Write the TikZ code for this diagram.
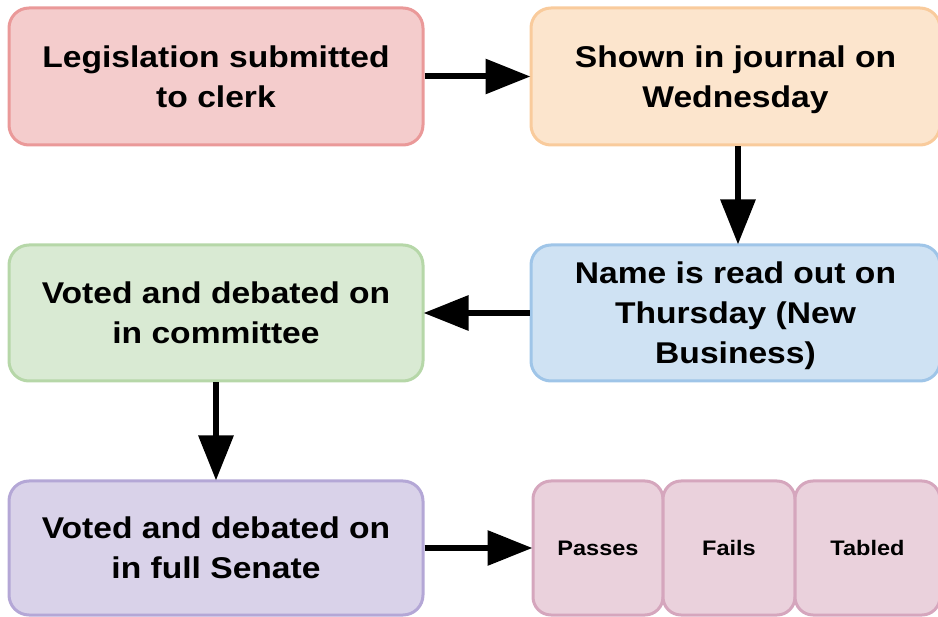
\documentclass[tikz,border=0pt]{standalone}
\usepackage{fontspec}
\setmainfont{Liberation Sans}[FakeStretch=1.12]
\usetikzlibrary{arrows.meta}
\definecolor{redF}{HTML}{F4CCCC}\definecolor{redD}{HTML}{EA9999}
\definecolor{orgF}{HTML}{FCE5CD}\definecolor{orgD}{HTML}{F9CB9C}
\definecolor{bluF}{HTML}{CFE2F3}\definecolor{bluD}{HTML}{9FC5E8}
\definecolor{grnF}{HTML}{D9EAD3}\definecolor{grnD}{HTML}{B6D7A8}
\definecolor{purF}{HTML}{D9D2E9}\definecolor{purD}{HTML}{B4A7D6}
\definecolor{pnkF}{HTML}{EAD1DC}\definecolor{pnkD}{HTML}{D5A6BD}
\tikzset{
  bigbox/.style={rectangle, rounded corners=20pt, line width=3pt, align=center,
    inner sep=0pt, text depth=-3pt, font=\fontsize{30}{40}\selectfont\bfseries},
  smallbox/.style={rectangle, rounded corners=18pt, line width=3pt, align=center,
    inner sep=0pt, minimum height=134pt, font=\fontsize{21}{26}\selectfont\bfseries,
    draw=pnkD, fill=pnkF},
  flow/.style={line width=6pt, -{Triangle[length=45pt,width=34pt]}, shorten >=-1pt}
}
\begin{document}
\begin{tikzpicture}[x=1pt,y=-1pt]
\useasboundingbox (0,0) rectangle (938,617);
\node[bigbox, draw=redD, fill=redF, minimum width=414pt, minimum height=137pt] (leg) at (216,76.5) {Legislation submitted\\to clerk};
\node[bigbox, draw=orgD, fill=orgF, minimum width=409pt, minimum height=137pt] (jour) at (735.5,76.5) {Shown in journal on\\Wednesday};
\node[bigbox, draw=bluD, fill=bluF, minimum width=409pt, minimum height=136pt] (name) at (735.5,313) {Name is read out on\\Thursday (New\\Business)};
\node[bigbox, draw=grnD, fill=grnF, minimum width=414pt, minimum height=136pt] (comm) at (216,313) {Voted and debated on\\in committee};
\node[bigbox, draw=purD, fill=purF, minimum width=414pt, minimum height=134pt] (sen) at (216,548) {Voted and debated on\\in full Senate};
\node[smallbox, minimum width=130pt] (pass) at (598,548) {Passes};
\node[smallbox, minimum width=132pt] (fail) at (729,548) {Fails};
\node[smallbox, minimum width=145pt] (tab) at (867.5,548) {Tabled};
\draw[flow] (leg.east) -- (jour.west);
\draw[flow] (jour.south -| 738,0) -- (name.north -| 738,0);
\draw[flow] (name.west) -- (comm.east);
\draw[flow] (comm.south) -- (sen.north);
\draw[flow] (sen.east) -- (pass.west);
\end{tikzpicture}
\end{document}
